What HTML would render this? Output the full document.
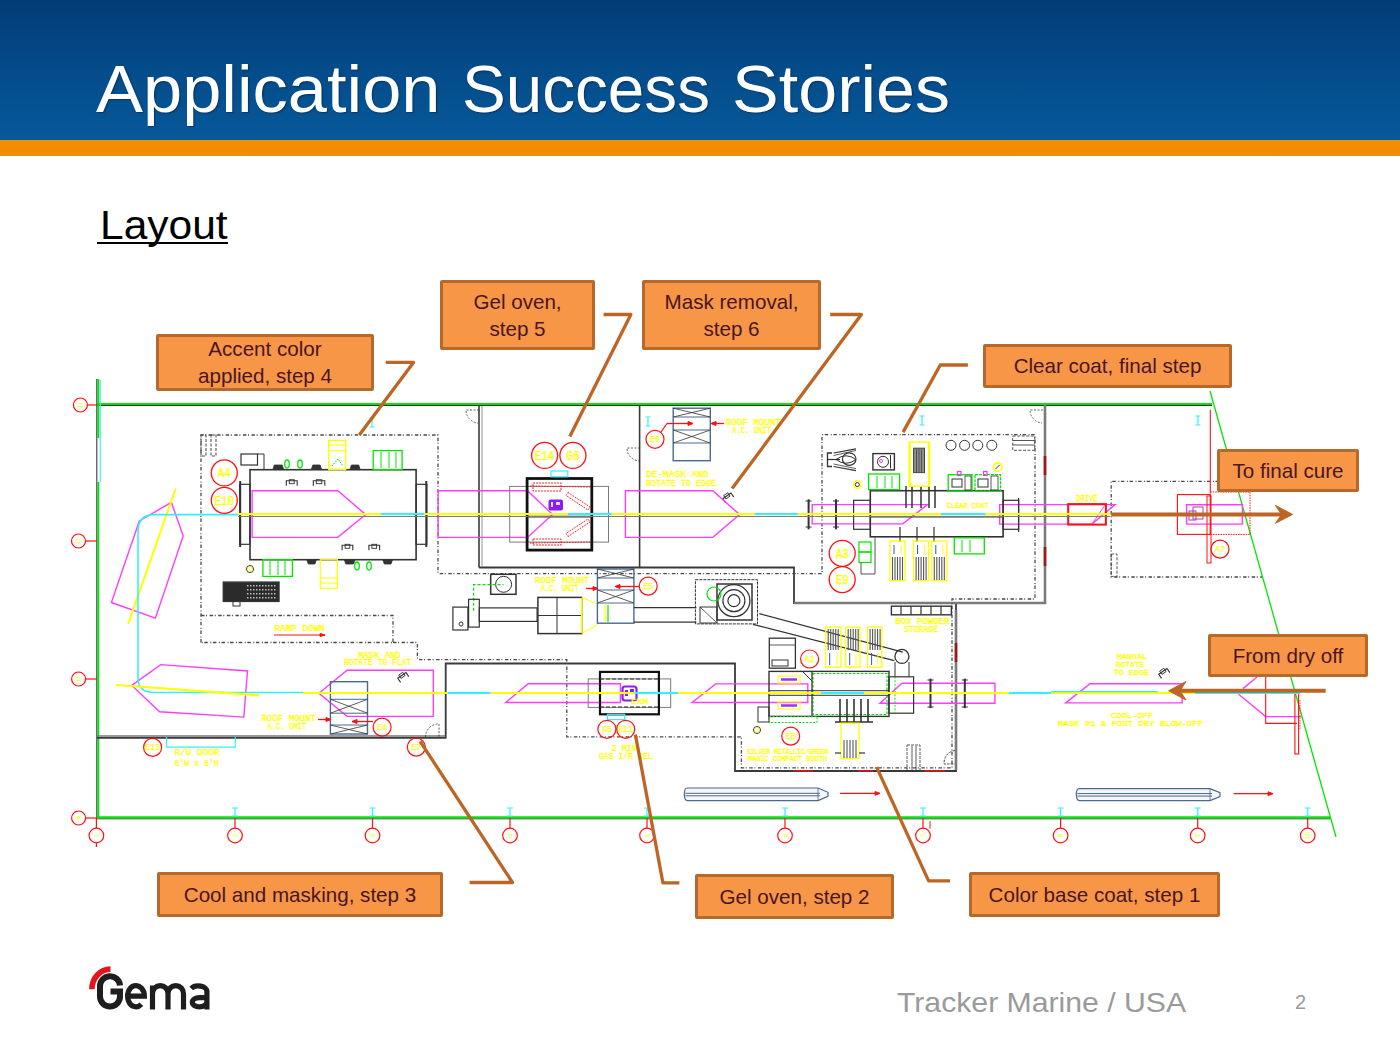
<!DOCTYPE html>
<html><head><meta charset="utf-8">
<style>
html,body{margin:0;padding:0;background:#fff;}
body{width:1400px;height:1050px;position:relative;overflow:hidden;font-family:"Liberation Sans",sans-serif;}
#hdr{position:absolute;left:0;top:0;width:1400px;height:140px;background:linear-gradient(#033b77 0%,#044a88 45%,#06599a 100%);}
#bar{position:absolute;left:0;top:139.5px;width:1400px;height:16px;background:linear-gradient(#e8900c 0%,#f68c00 40%,#f58a00 70%,#e9930f 100%);}
.tw{position:absolute;top:50.5px;font-size:66px;line-height:76px;color:#fff;white-space:nowrap;transform-origin:0 0;text-shadow:1px 1px 1.5px rgba(0,15,50,0.45);}
#layout{position:absolute;left:100px;top:201.5px;font-size:40px;line-height:46px;color:#000;white-space:nowrap;transform-origin:0 0;transform:scaleX(1.063);}
#ul{position:absolute;left:96.6px;top:242px;width:131.3px;height:2px;background:#000;}
.s1{padding-top:2.5px;}
.s2{padding-top:2px;}
.cb{position:absolute;box-sizing:border-box;background:#f79646;border:3px solid #b5692b;color:#4a1524;font-size:20.6px;line-height:26.8px;border-radius:2px;text-align:center;white-space:nowrap;display:flex;align-items:center;justify-content:center;}
#foot{position:absolute;left:897px;top:986px;font-size:28px;line-height:34px;color:#9a9a9a;white-space:nowrap;transform-origin:0 0;transform:scaleX(1.078);}
#pg{position:absolute;left:1295px;top:990px;font-size:20px;line-height:24px;color:#9a9a9a;}
svg{position:absolute;left:0;top:0;}
</style></head><body>
<div id="hdr"></div>
<div id="bar"></div>
<div class="tw" style="left:95.9px;transform:scaleX(1.067)">Application</div><div class="tw" style="left:461.8px;transform:scaleX(0.994)">Success</div><div class="tw" style="left:732.4px;transform:scaleX(1.062)">Stories</div>
<div id="layout">Layout</div><div id="ul"></div>

<svg id="dg" width="1400" height="1050" viewBox="0 0 1400 1050" font-family="Liberation Sans, sans-serif">
<line x1="97" y1="405.5" x2="1212" y2="405.5" stroke="#333" stroke-width="1" />
<line x1="97" y1="404" x2="1212" y2="404" stroke="#00e600" stroke-width="2.2" />
<line x1="96.8" y1="379" x2="96.8" y2="818" stroke="#2a2a40" stroke-width="1" />
<line x1="98.3" y1="379" x2="98.3" y2="438" stroke="#00e600" stroke-width="2" />
<line x1="98.3" y1="482" x2="98.3" y2="818" stroke="#00e600" stroke-width="2" />
<line x1="100.3" y1="380" x2="100.3" y2="482" stroke="#33f0ff" stroke-width="1.1" />
<line x1="96" y1="818.8" x2="1330" y2="818.8" stroke="#333" stroke-width="1" />
<line x1="97" y1="817.3" x2="1330" y2="817.3" stroke="#00e600" stroke-width="2.2" />
<line x1="1210" y1="391" x2="1336" y2="837" stroke="#00e600" stroke-width="1.3" />
<line x1="87.4" y1="405" x2="97" y2="405" stroke="#ff1010" stroke-width="1.2" />
<circle cx="80.4" cy="405" r="7" fill="none" stroke="#ff1010" stroke-width="1.2" />
<text x="80.4" y="407.5" fill="#ffff00" font-size="7" text-anchor="middle" transform="rotate(-90 80.4 405)">D</text>
<line x1="85.5" y1="541" x2="97" y2="541" stroke="#ff1010" stroke-width="1.2" />
<circle cx="78.5" cy="541" r="7" fill="none" stroke="#ff1010" stroke-width="1.2" />
<text x="78.5" y="543.5" fill="#ffff00" font-size="7" text-anchor="middle" transform="rotate(-90 78.5 541)">C</text>
<line x1="85.6" y1="679" x2="97" y2="679" stroke="#ff1010" stroke-width="1.2" />
<circle cx="78.6" cy="679" r="7" fill="none" stroke="#ff1010" stroke-width="1.2" />
<text x="78.6" y="681.5" fill="#ffff00" font-size="7" text-anchor="middle" transform="rotate(-90 78.6 679)">B</text>
<line x1="85.6" y1="818" x2="97" y2="818" stroke="#ff1010" stroke-width="1.2" />
<circle cx="78.6" cy="818" r="7" fill="none" stroke="#ff1010" stroke-width="1.2" />
<text x="78.6" y="820.5" fill="#ffff00" font-size="7" text-anchor="middle" transform="rotate(-90 78.6 818)">A</text>
<line x1="96.4" y1="818" x2="96.4" y2="828" stroke="#ff1010" stroke-width="1.2" />
<circle cx="96.4" cy="835.5" r="7.3" fill="none" stroke="#ff1010" stroke-width="1.2" />
<line x1="96.4" y1="843" x2="96.4" y2="847" stroke="#ff1010" stroke-width="1.2" />
<text x="96.4" y="838" fill="#ffff00" font-size="7" text-anchor="middle" transform="rotate(-90 96.4 835.5)">1</text>
<line x1="235" y1="818" x2="235" y2="828" stroke="#ff1010" stroke-width="1.2" />
<circle cx="235" cy="835.5" r="7.3" fill="none" stroke="#ff1010" stroke-width="1.2" />
<text x="235" y="838" fill="#ffff00" font-size="7" text-anchor="middle" transform="rotate(-90 235 835.5)">2</text>
<line x1="232" y1="808" x2="238" y2="808" stroke="#33f0ff" stroke-width="1" />
<line x1="235" y1="808" x2="235" y2="816" stroke="#33f0ff" stroke-width="1.2" />
<line x1="232" y1="816" x2="238" y2="816" stroke="#33f0ff" stroke-width="1" />
<line x1="372.5" y1="818" x2="372.5" y2="828" stroke="#ff1010" stroke-width="1.2" />
<circle cx="372.5" cy="835.5" r="7.3" fill="none" stroke="#ff1010" stroke-width="1.2" />
<text x="372.5" y="838" fill="#ffff00" font-size="7" text-anchor="middle" transform="rotate(-90 372.5 835.5)">3</text>
<line x1="369.5" y1="808" x2="375.5" y2="808" stroke="#33f0ff" stroke-width="1" />
<line x1="372.5" y1="808" x2="372.5" y2="816" stroke="#33f0ff" stroke-width="1.2" />
<line x1="369.5" y1="816" x2="375.5" y2="816" stroke="#33f0ff" stroke-width="1" />
<line x1="510" y1="818" x2="510" y2="828" stroke="#ff1010" stroke-width="1.2" />
<circle cx="510" cy="835.5" r="7.3" fill="none" stroke="#ff1010" stroke-width="1.2" />
<text x="510" y="838" fill="#ffff00" font-size="7" text-anchor="middle" transform="rotate(-90 510 835.5)">4</text>
<line x1="507" y1="808" x2="513" y2="808" stroke="#33f0ff" stroke-width="1" />
<line x1="510" y1="808" x2="510" y2="816" stroke="#33f0ff" stroke-width="1.2" />
<line x1="507" y1="816" x2="513" y2="816" stroke="#33f0ff" stroke-width="1" />
<line x1="647" y1="818" x2="647" y2="828" stroke="#ff1010" stroke-width="1.2" />
<circle cx="647" cy="835.5" r="7.3" fill="none" stroke="#ff1010" stroke-width="1.2" />
<text x="647" y="838" fill="#ffff00" font-size="7" text-anchor="middle" transform="rotate(-90 647 835.5)">5</text>
<line x1="644" y1="808" x2="650" y2="808" stroke="#33f0ff" stroke-width="1" />
<line x1="647" y1="808" x2="647" y2="816" stroke="#33f0ff" stroke-width="1.2" />
<line x1="644" y1="816" x2="650" y2="816" stroke="#33f0ff" stroke-width="1" />
<line x1="785" y1="818" x2="785" y2="828" stroke="#ff1010" stroke-width="1.2" />
<circle cx="785" cy="835.5" r="7.3" fill="none" stroke="#ff1010" stroke-width="1.2" />
<text x="785" y="838" fill="#ffff00" font-size="7" text-anchor="middle" transform="rotate(-90 785 835.5)">6</text>
<line x1="782" y1="808" x2="788" y2="808" stroke="#33f0ff" stroke-width="1" />
<line x1="785" y1="808" x2="785" y2="816" stroke="#33f0ff" stroke-width="1.2" />
<line x1="782" y1="816" x2="788" y2="816" stroke="#33f0ff" stroke-width="1" />
<line x1="923" y1="818" x2="923" y2="828" stroke="#ff1010" stroke-width="1.2" />
<circle cx="923" cy="835.5" r="7.3" fill="none" stroke="#ff1010" stroke-width="1.2" />
<text x="923" y="838" fill="#ffff00" font-size="7" text-anchor="middle" transform="rotate(-90 923 835.5)">7</text>
<line x1="920" y1="808" x2="926" y2="808" stroke="#33f0ff" stroke-width="1" />
<line x1="923" y1="808" x2="923" y2="816" stroke="#33f0ff" stroke-width="1.2" />
<line x1="920" y1="816" x2="926" y2="816" stroke="#33f0ff" stroke-width="1" />
<line x1="1060.6" y1="818" x2="1060.6" y2="828" stroke="#ff1010" stroke-width="1.2" />
<circle cx="1060.6" cy="835.5" r="7.3" fill="none" stroke="#ff1010" stroke-width="1.2" />
<text x="1060.6" y="838" fill="#ffff00" font-size="7" text-anchor="middle" transform="rotate(-90 1060.6 835.5)">8</text>
<line x1="1057.6" y1="808" x2="1063.6" y2="808" stroke="#33f0ff" stroke-width="1" />
<line x1="1060.6" y1="808" x2="1060.6" y2="816" stroke="#33f0ff" stroke-width="1.2" />
<line x1="1057.6" y1="816" x2="1063.6" y2="816" stroke="#33f0ff" stroke-width="1" />
<line x1="1197.7" y1="818" x2="1197.7" y2="828" stroke="#ff1010" stroke-width="1.2" />
<circle cx="1197.7" cy="835.5" r="7.3" fill="none" stroke="#ff1010" stroke-width="1.2" />
<text x="1197.7" y="838" fill="#ffff00" font-size="7" text-anchor="middle" transform="rotate(-90 1197.7 835.5)">9</text>
<line x1="1194.7" y1="808" x2="1200.7" y2="808" stroke="#33f0ff" stroke-width="1" />
<line x1="1197.7" y1="808" x2="1197.7" y2="816" stroke="#33f0ff" stroke-width="1.2" />
<line x1="1194.7" y1="816" x2="1200.7" y2="816" stroke="#33f0ff" stroke-width="1" />
<line x1="1307.7" y1="818" x2="1307.7" y2="828" stroke="#ff1010" stroke-width="1.2" />
<circle cx="1307.7" cy="835.5" r="7.3" fill="none" stroke="#ff1010" stroke-width="1.2" />
<text x="1307.7" y="838" fill="#ffff00" font-size="7" text-anchor="middle" transform="rotate(-90 1307.7 835.5)">10</text>
<line x1="1304.7" y1="808" x2="1310.7" y2="808" stroke="#33f0ff" stroke-width="1" />
<line x1="1307.7" y1="808" x2="1307.7" y2="816" stroke="#33f0ff" stroke-width="1.2" />
<line x1="1304.7" y1="816" x2="1310.7" y2="816" stroke="#33f0ff" stroke-width="1" />
<line x1="479" y1="405" x2="479" y2="567.5" stroke="#3a3a3a" stroke-width="1.6" />
<line x1="482" y1="406" x2="482" y2="566" stroke="#7a7a7a" stroke-width="0.8" />
<line x1="639.6" y1="405" x2="639.6" y2="567.5" stroke="#3a3a3a" stroke-width="1.6" />
<polyline points="479,567.5 794,567.5 794,603 956,603 956,771 735,771 735,663.5 445.7,663.5 445.7,737.8 97,737.8" fill="none" stroke="#3a3a3a" stroke-width="1.8" />
<line x1="97" y1="736" x2="445" y2="736" stroke="#7a7a7a" stroke-width="1.5" />
<polyline points="794,603 1045,603 1045,405" fill="none" stroke="#7a7a7a" stroke-width="2.6" />
<line x1="1045" y1="456" x2="1045" y2="475" stroke="#a01818" stroke-width="2.6" />
<line x1="1045" y1="547" x2="1045" y2="566" stroke="#a01818" stroke-width="2.6" />
<line x1="956" y1="610" x2="956" y2="770" stroke="#7a7a7a" stroke-width="2.6" />
<line x1="956" y1="643" x2="956" y2="662" stroke="#a01818" stroke-width="2.6" />
<line x1="793.6" y1="771" x2="812.8" y2="771" stroke="#d01818" stroke-width="1.8" />
<line x1="857.8" y1="771" x2="872.8" y2="771" stroke="#d01818" stroke-width="1.8" />
<line x1="924.3" y1="771" x2="945.7" y2="771" stroke="#d01818" stroke-width="1.8" />
<path d="M479 410 L466 410 A13 13 0 0 0 478 423" fill="none" stroke="#3a3a3a" stroke-width="0.8" stroke-dasharray="2 1.5"/>
<path d="M640 448 L627 448 A13 13 0 0 0 639 461" fill="none" stroke="#3a3a3a" stroke-width="0.8" stroke-dasharray="2 1.5"/>
<path d="M1043 410 L1030 410 A13 13 0 0 0 1042 423" fill="none" stroke="#3a3a3a" stroke-width="0.8" stroke-dasharray="2 1.5"/>
<polyline points="201,642.5 201,435 438,435 438,573.6 822,573.6" fill="none" stroke="#4a4a4a" stroke-width="1.3" stroke-dasharray="3.5 1.6 1 2.5"/>
<polyline points="201,615.5 393,615.5 393,642.5 201,642.5" fill="none" stroke="#4a4a4a" stroke-width="1.3" stroke-dasharray="3.5 1.6 1 2.5"/>
<polyline points="393,642.5 417.4,642.5 417.4,659.6 566.8,659.6 566.8,736.8 741.4,736.8 741.4,767.8 952,767.8 952,599 1035,599 1035,434.6 822,434.6 822,573.6" fill="none" stroke="#4a4a4a" stroke-width="1.3" stroke-dasharray="3.5 1.6 1 2.5"/>
<polyline points="1262,481.3 1111.2,481.3 1111.2,577 1262,577" fill="none" stroke="#4a4a4a" stroke-width="1.3" stroke-dasharray="3.5 1.6 1 2.5"/>
<g transform="rotate(-35 1164 673)"><path d="M1159 676 L1159 671 L1169 671 L1169 676" fill="none" stroke="#333" stroke-width="1.1"/><rect x="1161.5" y="669" width="5" height="4" fill="none" stroke="#333" stroke-width="0.9"/></g>
<g transform="rotate(-35 403 677)"><path d="M398 680 L398 675 L408 675 L408 680" fill="none" stroke="#333" stroke-width="1.1"/><rect x="400.5" y="673" width="5" height="4" fill="none" stroke="#333" stroke-width="0.9"/></g>
<g transform="rotate(-35 728 497.5)"><path d="M723 500.5 L723 495.5 L733 495.5 L733 500.5" fill="none" stroke="#333" stroke-width="1.1"/><rect x="725.5" y="493.5" width="5" height="4" fill="none" stroke="#333" stroke-width="0.9"/></g>
<polygon points="252.1,490.7 337.8,490.7 365.7,514.6 337.8,537.4 252.1,537.4" fill="none" stroke="#ff3cff" stroke-width="1.4" />
<polygon points="438.1,490.7 527.5,490.7 552.6,514.6 527.5,537.4 438.1,537.4" fill="none" stroke="#ff3cff" stroke-width="1.4" />
<polygon points="625.4,490.7 712.8,490.7 739.6,514.6 712.8,537.4 625.4,537.4" fill="none" stroke="#ff3cff" stroke-width="1.4" />
<polygon points="812.2,504.6 927.5,504.6 902.8,523.9 812.2,523.9" fill="none" stroke="#ff3cff" stroke-width="1.4" />
<polygon points="999.7,504.6 1115,504.6 1092,524.1 999.7,524.1" fill="none" stroke="#ff3cff" stroke-width="1.4" />
<polygon points="1186.6,504.8 1242.4,504.8 1242.4,524.1 1186.6,524.1" fill="none" stroke="#ff3cff" stroke-width="1.4" />
<polygon points="139.3,521 171.4,502.4 183.2,536 155.4,618.1 111.4,602.5" fill="none" stroke="#ff3cff" stroke-width="1.4" />
<polygon points="131.8,685.4 160.7,664.6 247.5,671 243.8,717.1 159.6,711.8" fill="none" stroke="#ff3cff" stroke-width="1.4" />
<polygon points="318.9,693.3 347.1,670.3 433.3,670.3 433.3,716.4 347.1,716.4" fill="none" stroke="#ff3cff" stroke-width="1.4" />
<polygon points="505.7,702.5 528.2,683.8 620.4,683.8 620.4,702.5" fill="none" stroke="#ff3cff" stroke-width="1.4" />
<polygon points="692.1,702.5 715.7,683.9 807.8,683.9 807.8,702.5" fill="none" stroke="#ff3cff" stroke-width="1.4" />
<polygon points="880,703.3 902,683.3 994.9,683.3 994.9,703.3" fill="none" stroke="#ff3cff" stroke-width="1.4" />
<polygon points="1065.7,702.9 1090,683.7 1181.4,683.7 1182.3,702.9" fill="none" stroke="#ff3cff" stroke-width="1.4" />
<polyline points="1257,677 1243,688.6" fill="none" stroke="#ff3cff" stroke-width="1.4" />
<polyline points="1238.6,694.3 1265.7,716.6 1301,716.6" fill="none" stroke="#ff3cff" stroke-width="1.4" />
<polyline points="1265.7,677 1265.7,723.4 1297,723.4" fill="none" stroke="#ff1010" stroke-width="1.1" />
<rect x="1294.9" y="691" width="3.699999999999818" height="63" fill="none" stroke="#ff1010" stroke-width="1.1" />
<line x1="1300" y1="700" x2="1300" y2="730" stroke="#ff1010" stroke-width="0.8" stroke-dasharray="1.5 1"/>
<line x1="175.7" y1="488.5" x2="128.1" y2="623.9" stroke="#ffff00" stroke-width="2" />
<rect x="250" y="469.7" width="166.10000000000002" height="90.00000000000006" fill="none" stroke="#333" stroke-width="1.6" />
<rect x="239.7" y="484.3" width="10.300000000000011" height="59.99999999999994" fill="none" stroke="#333" stroke-width="1.2" />
<rect x="416.1" y="484.3" width="10.699999999999989" height="59.99999999999994" fill="none" stroke="#333" stroke-width="1.2" />
<line x1="240.2" y1="481" x2="240.2" y2="547" stroke="#333" stroke-width="2" />
<line x1="426.3" y1="481" x2="426.3" y2="547" stroke="#333" stroke-width="2" />
<rect x="241" y="454" width="16.5" height="11" fill="none" stroke="#333" stroke-width="1.2" />
<line x1="257.5" y1="454" x2="264" y2="454" stroke="#333" stroke-width="1" />
<line x1="264" y1="454" x2="264" y2="469" stroke="#333" stroke-width="1" />
<rect x="328.7" y="440.5" width="17.0" height="29.100000000000023" fill="none" stroke="#ffff00" stroke-width="1.4" />
<line x1="328.7" y1="445" x2="345.7" y2="445" stroke="#ffff00" stroke-width="1.1" />
<line x1="328.7" y1="450.8" x2="345.7" y2="450.8" stroke="#ffff00" stroke-width="1.1" />
<polyline points="332,466 338,459 343,466" fill="none" stroke="#00e600" stroke-width="1" stroke-dasharray="1.5 1"/>
<rect x="373.2" y="450.6" width="28.900000000000034" height="19.099999999999966" fill="none" stroke="#00e600" stroke-width="1.3" />
<line x1="381" y1="452" x2="381" y2="468" stroke="#00e600" stroke-width="1" />
<line x1="389" y1="452" x2="389" y2="468" stroke="#00e600" stroke-width="1" />
<line x1="396" y1="452" x2="396" y2="468" stroke="#00e600" stroke-width="1" />
<rect x="262.9" y="559.7" width="29.5" height="16.699999999999932" fill="none" stroke="#00e600" stroke-width="1.3" />
<line x1="270" y1="561" x2="270" y2="575" stroke="#00e600" stroke-width="1" />
<line x1="278" y1="561" x2="278" y2="575" stroke="#00e600" stroke-width="1" />
<line x1="285" y1="561" x2="285" y2="575" stroke="#00e600" stroke-width="1" />
<rect x="320.3" y="559.7" width="17.099999999999966" height="28.5" fill="none" stroke="#ffff00" stroke-width="1.2" />
<line x1="320.3" y1="578" x2="337.4" y2="578" stroke="#ffff00" stroke-width="1" />
<line x1="320.3" y1="583" x2="337.4" y2="583" stroke="#ffff00" stroke-width="1" />
<path d="M272.8 469.6 L274.3 465 L282.2 465 L283.7 469.6 Z" fill="#333" stroke="#333" stroke-width="0.8"/>
<path d="M311.3 469.6 L312.8 465 L320.1 465 L321.6 469.6 Z" fill="#333" stroke="#333" stroke-width="0.8"/>
<path d="M349.9 469.6 L351.4 465 L358.7 465 L360.2 469.6 Z" fill="#333" stroke="#333" stroke-width="0.8"/>
<path d="M306.8 559.7 L308.3 564 L314.9 564 L316.4 559.7 Z" fill="#333" stroke="#333" stroke-width="0.8"/>
<path d="M344.3 559.7 L345.8 564 L353.5 564 L355 559.7 Z" fill="#333" stroke="#333" stroke-width="0.8"/>
<path d="M382.8 559.7 L384.3 564 L391.0 564 L392.5 559.7 Z" fill="#333" stroke="#333" stroke-width="0.8"/>
<ellipse cx="287" cy="464" rx="2.3" ry="4" fill="none" stroke="#00e600" stroke-width="1.3"/>
<ellipse cx="300" cy="464" rx="2.3" ry="4" fill="none" stroke="#00e600" stroke-width="1.3"/>
<ellipse cx="357" cy="566" rx="2.3" ry="4" fill="none" stroke="#00e600" stroke-width="1.3"/>
<ellipse cx="369" cy="566" rx="2.3" ry="4" fill="none" stroke="#00e600" stroke-width="1.3"/>
<polyline points="286.3,485.7 286.3,480.7 297.2,480.7 297.2,485.7" fill="none" stroke="#333" stroke-width="1.1" />
<rect x="289.3" y="479.7" width="4.899999999999977" height="4.0" fill="none" stroke="#333" stroke-width="0.9" />
<polyline points="313.3,485.7 313.3,480.7 324.8,480.7 324.8,485.7" fill="none" stroke="#333" stroke-width="1.1" />
<rect x="316.3" y="479.7" width="5.5" height="4.0" fill="none" stroke="#333" stroke-width="0.9" />
<polyline points="342.1,550.3 342.1,545.3 352.8,545.3 352.8,550.3" fill="none" stroke="#333" stroke-width="1.1" />
<rect x="345.1" y="544.3" width="4.699999999999989" height="4.0" fill="none" stroke="#333" stroke-width="0.9" />
<polyline points="368.9,550.3 368.9,545.3 379.6,545.3 379.6,550.3" fill="none" stroke="#333" stroke-width="1.1" />
<rect x="371.9" y="544.3" width="4.7000000000000455" height="4.0" fill="none" stroke="#333" stroke-width="0.9" />
<circle cx="250" cy="569" r="3.5" fill="none" stroke="#333" stroke-width="1" />
<circle cx="250" cy="569" r="2.5" fill="none" stroke="#ffff00" stroke-width="0.8" />
<rect x="223.3" y="582.1" width="55.69999999999999" height="19.299999999999955" fill="#2b2b2b" stroke="#333" stroke-width="1.4" />
<rect x="247" y="585" width="1.5" height="1.5" fill="#bbb" stroke="none" stroke-width="0" />
<rect x="250" y="585" width="1.5" height="1.5" fill="#bbb" stroke="none" stroke-width="0" />
<rect x="253" y="585" width="1.5" height="1.5" fill="#bbb" stroke="none" stroke-width="0" />
<rect x="256" y="585" width="1.5" height="1.5" fill="#bbb" stroke="none" stroke-width="0" />
<rect x="259" y="585" width="1.5" height="1.5" fill="#bbb" stroke="none" stroke-width="0" />
<rect x="262" y="585" width="1.5" height="1.5" fill="#bbb" stroke="none" stroke-width="0" />
<rect x="265" y="585" width="1.5" height="1.5" fill="#bbb" stroke="none" stroke-width="0" />
<rect x="268" y="585" width="1.5" height="1.5" fill="#bbb" stroke="none" stroke-width="0" />
<rect x="271" y="585" width="1.5" height="1.5" fill="#bbb" stroke="none" stroke-width="0" />
<rect x="274" y="585" width="1.5" height="1.5" fill="#bbb" stroke="none" stroke-width="0" />
<rect x="247" y="589" width="1.5" height="1.5" fill="#bbb" stroke="none" stroke-width="0" />
<rect x="250" y="589" width="1.5" height="1.5" fill="#bbb" stroke="none" stroke-width="0" />
<rect x="253" y="589" width="1.5" height="1.5" fill="#bbb" stroke="none" stroke-width="0" />
<rect x="256" y="589" width="1.5" height="1.5" fill="#bbb" stroke="none" stroke-width="0" />
<rect x="259" y="589" width="1.5" height="1.5" fill="#bbb" stroke="none" stroke-width="0" />
<rect x="262" y="589" width="1.5" height="1.5" fill="#bbb" stroke="none" stroke-width="0" />
<rect x="265" y="589" width="1.5" height="1.5" fill="#bbb" stroke="none" stroke-width="0" />
<rect x="268" y="589" width="1.5" height="1.5" fill="#bbb" stroke="none" stroke-width="0" />
<rect x="271" y="589" width="1.5" height="1.5" fill="#bbb" stroke="none" stroke-width="0" />
<rect x="274" y="589" width="1.5" height="1.5" fill="#bbb" stroke="none" stroke-width="0" />
<rect x="247" y="593" width="1.5" height="1.5" fill="#bbb" stroke="none" stroke-width="0" />
<rect x="250" y="593" width="1.5" height="1.5" fill="#bbb" stroke="none" stroke-width="0" />
<rect x="253" y="593" width="1.5" height="1.5" fill="#bbb" stroke="none" stroke-width="0" />
<rect x="256" y="593" width="1.5" height="1.5" fill="#bbb" stroke="none" stroke-width="0" />
<rect x="259" y="593" width="1.5" height="1.5" fill="#bbb" stroke="none" stroke-width="0" />
<rect x="262" y="593" width="1.5" height="1.5" fill="#bbb" stroke="none" stroke-width="0" />
<rect x="265" y="593" width="1.5" height="1.5" fill="#bbb" stroke="none" stroke-width="0" />
<rect x="268" y="593" width="1.5" height="1.5" fill="#bbb" stroke="none" stroke-width="0" />
<rect x="271" y="593" width="1.5" height="1.5" fill="#bbb" stroke="none" stroke-width="0" />
<rect x="274" y="593" width="1.5" height="1.5" fill="#bbb" stroke="none" stroke-width="0" />
<rect x="247" y="597" width="1.5" height="1.5" fill="#bbb" stroke="none" stroke-width="0" />
<rect x="250" y="597" width="1.5" height="1.5" fill="#bbb" stroke="none" stroke-width="0" />
<rect x="253" y="597" width="1.5" height="1.5" fill="#bbb" stroke="none" stroke-width="0" />
<rect x="256" y="597" width="1.5" height="1.5" fill="#bbb" stroke="none" stroke-width="0" />
<rect x="259" y="597" width="1.5" height="1.5" fill="#bbb" stroke="none" stroke-width="0" />
<rect x="262" y="597" width="1.5" height="1.5" fill="#bbb" stroke="none" stroke-width="0" />
<rect x="265" y="597" width="1.5" height="1.5" fill="#bbb" stroke="none" stroke-width="0" />
<rect x="268" y="597" width="1.5" height="1.5" fill="#bbb" stroke="none" stroke-width="0" />
<rect x="271" y="597" width="1.5" height="1.5" fill="#bbb" stroke="none" stroke-width="0" />
<rect x="274" y="597" width="1.5" height="1.5" fill="#bbb" stroke="none" stroke-width="0" />
<rect x="233" y="601.4" width="7" height="4.600000000000023" fill="none" stroke="#333" stroke-width="1" />
<rect x="201" y="435" width="5" height="21" fill="none" stroke="#555" stroke-width="1.1" stroke-dasharray="3 1.5"/>
<rect x="211" y="435" width="5" height="21" fill="none" stroke="#555" stroke-width="1.1" stroke-dasharray="3 1.5"/>
<rect x="509.7" y="486.4" width="98.80000000000001" height="55.700000000000045" fill="none" stroke="#7a7a7a" stroke-width="1" />
<rect x="527.1" y="478.5" width="64.69999999999993" height="71.60000000000002" fill="none" stroke="#111" stroke-width="2.8" />
<line x1="527.1" y1="514.6" x2="591.8" y2="514.6" stroke="#333" stroke-width="1.2" />
<line x1="527.1" y1="517" x2="591.8" y2="517" stroke="#333" stroke-width="1" />
<rect x="551" y="471" width="16.799999999999955" height="5.800000000000011" fill="none" stroke="#33f0ff" stroke-width="1.2" />
<rect x="533" y="483" width="28" height="8" fill="none" stroke="#ff1010" stroke-width="0.9" stroke-dasharray="2 1"/>
<rect x="533" y="539" width="28" height="6" fill="none" stroke="#ff1010" stroke-width="0.9" stroke-dasharray="2 1"/>
<polygon points="568,492.5 590,507 588,510 566,495.5" fill="none" stroke="#ff1010" stroke-width="1" stroke-dasharray="1.6 1.2"/>
<polygon points="568,536.5 590,522 588,519 566,533.5" fill="none" stroke="#ff1010" stroke-width="1" stroke-dasharray="1.6 1.2"/>
<line x1="530" y1="486" x2="590" y2="487" stroke="#ff1010" stroke-width="1" stroke-dasharray="1.6 1.2"/>
<line x1="530" y1="543" x2="590" y2="542" stroke="#ff1010" stroke-width="1" stroke-dasharray="1.6 1.2"/>
<rect x="548.5" y="499.5" width="14.5" height="11" rx="2" fill="#8a1ef0"/>
<rect x="551" y="502" width="2" height="5" fill="#e8d8ff" stroke="none" stroke-width="0" />
<rect x="556" y="502" width="4" height="3" fill="#e8d8ff" stroke="none" stroke-width="0" />
<rect x="673.2" y="408.2" width="37.09999999999991" height="52.5" fill="none" stroke="#4a6a90" stroke-width="1.4" />
<line x1="673.2" y1="417" x2="710.3" y2="417" stroke="#4a6a90" stroke-width="1" />
<line x1="673.2" y1="430" x2="710.3" y2="430" stroke="#4a6a90" stroke-width="1" />
<line x1="673.2" y1="443" x2="710.3" y2="443" stroke="#4a6a90" stroke-width="1" />
<polyline points="673.2,408.2 710.3,417" fill="none" stroke="#333" stroke-width="0.8" />
<polyline points="673.2,417 710.3,408.2" fill="none" stroke="#333" stroke-width="0.8" />
<polyline points="673.2,430 710.3,443" fill="none" stroke="#333" stroke-width="0.8" />
<polyline points="673.2,443 710.3,430" fill="none" stroke="#333" stroke-width="0.8" />
<line x1="667" y1="423.5" x2="692" y2="423.5" stroke="#ff1010" stroke-width="1.3" />
<polyline points="661,432 667,423.5" fill="none" stroke="#ff1010" stroke-width="1.3" />
<line x1="712" y1="423.5" x2="724" y2="423.5" stroke="#ff1010" stroke-width="1.3" />
<polygon points="688,421.5 693,423.5 688,425.5" fill="#ff1010" stroke="#ff1010" stroke-width="1" />
<polygon points="716,421.5 711,423.5 716,425.5" fill="#ff1010" stroke="#ff1010" stroke-width="1" />
<line x1="648" y1="417" x2="648" y2="426" stroke="#33f0ff" stroke-width="1.2" />
<line x1="645.5" y1="417" x2="650.5" y2="417" stroke="#33f0ff" stroke-width="1" />
<line x1="645.5" y1="426" x2="650.5" y2="426" stroke="#33f0ff" stroke-width="1" />
<line x1="372" y1="418" x2="372" y2="427" stroke="#33f0ff" stroke-width="1.2" />
<line x1="369.5" y1="418" x2="374.5" y2="418" stroke="#33f0ff" stroke-width="1" />
<line x1="369.5" y1="427" x2="374.5" y2="427" stroke="#33f0ff" stroke-width="1" />
<line x1="922" y1="416" x2="922" y2="425" stroke="#33f0ff" stroke-width="1.2" />
<line x1="919.5" y1="416" x2="924.5" y2="416" stroke="#33f0ff" stroke-width="1" />
<line x1="919.5" y1="425" x2="924.5" y2="425" stroke="#33f0ff" stroke-width="1" />
<line x1="1198" y1="416" x2="1198" y2="425" stroke="#33f0ff" stroke-width="1.2" />
<line x1="1195.5" y1="416" x2="1200.5" y2="416" stroke="#33f0ff" stroke-width="1" />
<line x1="1195.5" y1="425" x2="1200.5" y2="425" stroke="#33f0ff" stroke-width="1" />
<rect x="870.3" y="490.7" width="132.80000000000007" height="46.099999999999966" fill="none" stroke="#333" stroke-width="1.6" />
<line x1="870.3" y1="514.6" x2="1003.1" y2="514.6" stroke="#333" stroke-width="1" />
<line x1="870.3" y1="517" x2="1003.1" y2="517" stroke="#333" stroke-width="1" />
<rect x="853.6" y="500.3" width="16.699999999999932" height="28.999999999999943" fill="none" stroke="#333" stroke-width="1.2" />
<rect x="1003.1" y="500.3" width="15.5" height="28.999999999999943" fill="none" stroke="#333" stroke-width="1.2" />
<line x1="1018.6" y1="498" x2="1018.6" y2="532" stroke="#333" stroke-width="1.3" />
<line x1="808.6" y1="499.3" x2="808.6" y2="529.3" stroke="#333" stroke-width="2" />
<line x1="805.6" y1="501" x2="811.6" y2="501" stroke="#333" stroke-width="1" />
<line x1="805.6" y1="527" x2="811.6" y2="527" stroke="#333" stroke-width="1" />
<line x1="836" y1="499.3" x2="836" y2="529.3" stroke="#333" stroke-width="2" />
<line x1="833" y1="501" x2="839" y2="501" stroke="#333" stroke-width="1" />
<line x1="833" y1="527" x2="839" y2="527" stroke="#333" stroke-width="1" />
<line x1="906" y1="486" x2="906" y2="508" stroke="#333" stroke-width="1.5" />
<line x1="912" y1="486" x2="912" y2="508" stroke="#333" stroke-width="1.5" />
<line x1="921" y1="486" x2="921" y2="508" stroke="#333" stroke-width="1.5" />
<line x1="929" y1="486" x2="929" y2="508" stroke="#333" stroke-width="1.5" />
<line x1="935" y1="486" x2="935" y2="508" stroke="#333" stroke-width="1.5" />
<line x1="900" y1="527" x2="900" y2="542" stroke="#333" stroke-width="1.2" />
<line x1="917" y1="527" x2="917" y2="542" stroke="#333" stroke-width="1.2" />
<line x1="934" y1="527" x2="934" y2="542" stroke="#333" stroke-width="1.2" />
<rect x="868.6" y="474" width="31.0" height="15.600000000000023" fill="none" stroke="#00e600" stroke-width="1.3" />
<line x1="877" y1="476" x2="877" y2="488" stroke="#00e600" stroke-width="1" />
<line x1="885" y1="476" x2="885" y2="488" stroke="#00e600" stroke-width="1" />
<line x1="892" y1="476" x2="892" y2="488" stroke="#00e600" stroke-width="1" />
<rect x="948.2" y="474.7" width="23.799999999999955" height="16.30000000000001" fill="none" stroke="#00e600" stroke-width="1.3" />
<rect x="975" y="474.7" width="25.5" height="16.30000000000001" fill="none" stroke="#00e600" stroke-width="1.3" stroke-dasharray="3 1"/>
<rect x="965" y="476" width="6" height="14" fill="none" stroke="#333" stroke-width="0.8" />
<rect x="991" y="476" width="7" height="14" fill="none" stroke="#333" stroke-width="0.8" />
<rect x="952" y="479" width="10" height="8" fill="none" stroke="#333" stroke-width="1" />
<rect x="978" y="479" width="10" height="8" fill="none" stroke="#333" stroke-width="1" />
<rect x="957.5" y="471.5" width="3.5" height="4.0" fill="none" stroke="#e040e0" stroke-width="1.2" />
<rect x="983.5" y="471.5" width="3.5" height="4.0" fill="none" stroke="#e040e0" stroke-width="1.2" />
<rect x="954.3" y="537.8" width="30.0" height="16.100000000000023" fill="none" stroke="#00e600" stroke-width="1.3" />
<line x1="962" y1="540" x2="962" y2="552" stroke="#00e600" stroke-width="1" />
<line x1="970" y1="540" x2="970" y2="552" stroke="#00e600" stroke-width="1" />
<circle cx="951" cy="445.3" r="5" fill="none" stroke="#333" stroke-width="1" />
<circle cx="964.6" cy="445.3" r="5" fill="none" stroke="#333" stroke-width="1" />
<circle cx="977.8" cy="445.3" r="5" fill="none" stroke="#333" stroke-width="1" />
<circle cx="991.8" cy="445.3" r="5" fill="none" stroke="#333" stroke-width="1" />
<rect x="909.6" y="442.1" width="19.600000000000023" height="44.099999999999966" fill="none" stroke="#ffff00" stroke-width="1.4" />
<rect x="913.6" y="448.2" width="10.899999999999977" height="24.400000000000034" fill="#8c8c8c" stroke="#444" stroke-width="1" />
<line x1="916.5" y1="449" x2="916.5" y2="472" stroke="#555" stroke-width="1" />
<line x1="919" y1="449" x2="919" y2="472" stroke="#555" stroke-width="1" />
<line x1="921.5" y1="449" x2="921.5" y2="472" stroke="#555" stroke-width="1" />
<line x1="909.6" y1="442.1" x2="909.6" y2="486.2" stroke="#ffff00" stroke-width="2.2" />
<line x1="929.2" y1="442.1" x2="929.2" y2="486.2" stroke="#ffff00" stroke-width="2.2" />
<rect x="890" y="541" width="15" height="39.700000000000045" fill="none" stroke="#ffff00" stroke-width="1.3" />
<line x1="892.5" y1="557" x2="892.5" y2="580" stroke="#555" stroke-width="1.1" />
<line x1="895" y1="557" x2="895" y2="580" stroke="#555" stroke-width="1.1" />
<line x1="897.5" y1="557" x2="897.5" y2="580" stroke="#555" stroke-width="1.1" />
<line x1="900" y1="557" x2="900" y2="580" stroke="#555" stroke-width="1.1" />
<line x1="902.5" y1="557" x2="902.5" y2="580" stroke="#555" stroke-width="1.1" />
<line x1="894" y1="545" x2="894" y2="554" stroke="#3050d0" stroke-width="1" />
<line x1="901" y1="545" x2="901" y2="554" stroke="#ffff00" stroke-width="1" />
<rect x="913.6" y="541" width="15.0" height="39.700000000000045" fill="none" stroke="#ffff00" stroke-width="1.3" />
<line x1="916.1" y1="557" x2="916.1" y2="580" stroke="#555" stroke-width="1.1" />
<line x1="918.6" y1="557" x2="918.6" y2="580" stroke="#555" stroke-width="1.1" />
<line x1="921.1" y1="557" x2="921.1" y2="580" stroke="#555" stroke-width="1.1" />
<line x1="923.6" y1="557" x2="923.6" y2="580" stroke="#555" stroke-width="1.1" />
<line x1="926.1" y1="557" x2="926.1" y2="580" stroke="#555" stroke-width="1.1" />
<line x1="917.6" y1="545" x2="917.6" y2="554" stroke="#3050d0" stroke-width="1" />
<line x1="924.6" y1="545" x2="924.6" y2="554" stroke="#ffff00" stroke-width="1" />
<rect x="931.8" y="541" width="15.0" height="39.700000000000045" fill="none" stroke="#ffff00" stroke-width="1.3" />
<line x1="934.3" y1="557" x2="934.3" y2="580" stroke="#555" stroke-width="1.1" />
<line x1="936.8" y1="557" x2="936.8" y2="580" stroke="#555" stroke-width="1.1" />
<line x1="939.3" y1="557" x2="939.3" y2="580" stroke="#555" stroke-width="1.1" />
<line x1="941.8" y1="557" x2="941.8" y2="580" stroke="#555" stroke-width="1.1" />
<line x1="944.3" y1="557" x2="944.3" y2="580" stroke="#555" stroke-width="1.1" />
<line x1="935.8" y1="545" x2="935.8" y2="554" stroke="#3050d0" stroke-width="1" />
<line x1="942.8" y1="545" x2="942.8" y2="554" stroke="#ffff00" stroke-width="1" />
<polyline points="832,453 827.5,453 827.5,466.5 832,466.5" fill="none" stroke="#333" stroke-width="1.3" />
<line x1="827.5" y1="459.5" x2="840" y2="459.5" stroke="#333" stroke-width="1.2" />
<polyline points="833.6,453 856,448.9" fill="none" stroke="#333" stroke-width="1.1" />
<polyline points="833.6,455.5 856,450.5" fill="none" stroke="#333" stroke-width="0.8" />
<polyline points="833.6,466.5 856,470.6" fill="none" stroke="#333" stroke-width="1.1" />
<polyline points="833.6,464 856,468.6" fill="none" stroke="#333" stroke-width="0.8" />
<ellipse cx="849.2" cy="459.1" rx="6.8" ry="6.3" fill="none" stroke="#333" stroke-width="1.2"/>
<path d="M836 459.5 Q846 452 856 459.5 Q846 467 836 459.5 Z" fill="none" stroke="#333" stroke-width="1"/>
<rect x="872.9" y="453.6" width="21.5" height="16.299999999999955" fill="none" stroke="#333" stroke-width="1.4" />
<circle cx="883" cy="461.8" r="5.5" fill="none" stroke="#333" stroke-width="1" />
<line x1="890.5" y1="455" x2="890.5" y2="468.5" stroke="#333" stroke-width="1" />
<circle cx="881" cy="461" r="1.5" fill="none" stroke="#e040e0" stroke-width="1" />
<rect x="859" y="542" width="12" height="10" fill="none" stroke="#00e600" stroke-width="1.2" />
<rect x="859" y="552" width="12" height="10.5" fill="none" stroke="#00e600" stroke-width="1.2" />
<polyline points="861,562.5 861,574 875,574 875,537" fill="none" stroke="#555" stroke-width="1" />
<circle cx="857.3" cy="484.6" r="3.8" fill="none" stroke="#ffff00" stroke-width="1.4" />
<circle cx="857.3" cy="484.6" r="2" fill="none" stroke="#333" stroke-width="1" />
<circle cx="997.7" cy="467.2" r="4.3" fill="none" stroke="#ffff00" stroke-width="1.6" />
<line x1="995.5" y1="469" x2="999.5" y2="465" stroke="#333" stroke-width="1" />
<rect x="1068.2" y="504.1" width="37.700000000000045" height="20.5" fill="none" stroke="#ff1010" stroke-width="2" />
<line x1="1105" y1="505" x2="1092" y2="524" stroke="#ff3cff" stroke-width="1" />
<rect x="1177.4" y="494.6" width="32.899999999999864" height="39.799999999999955" fill="none" stroke="#ff1010" stroke-width="1.1" />
<rect x="1210.3" y="492" width="39.700000000000045" height="42.39999999999998" fill="none" stroke="#ff1010" stroke-width="1" stroke-dasharray="1.5 1"/>
<line x1="1210.3" y1="409.7" x2="1210.3" y2="492" stroke="#ff1010" stroke-width="1.1" />
<rect x="1207" y="496" width="4" height="67" fill="none" stroke="#ff1010" stroke-width="1" />
<rect x="1193" y="507" width="10" height="12" fill="none" stroke="#a040c0" stroke-width="1" />
<rect x="1189" y="511" width="7" height="9" fill="none" stroke="#a040c0" stroke-width="1" />
<rect x="1012.7" y="436" width="22.0" height="14.300000000000011" fill="none" stroke="#555" stroke-width="1" stroke-dasharray="3 1.5"/>
<line x1="1012.7" y1="440.5" x2="1034.7" y2="440.5" stroke="#555" stroke-width="1" />
<line x1="1012.7" y1="445" x2="1034.7" y2="445" stroke="#555" stroke-width="1" />
<rect x="1111.2" y="554" width="5.7999999999999545" height="22.399999999999977" fill="none" stroke="#555" stroke-width="1" stroke-dasharray="3 1.5"/>
<line x1="930" y1="821" x2="930" y2="828.6" stroke="#ff1010" stroke-width="1" />
<rect x="490.7" y="574.3" width="25.30000000000001" height="20.0" fill="none" stroke="#333" stroke-width="1.5" />
<circle cx="503.6" cy="584.3" r="8" fill="none" stroke="#333" stroke-width="1" />
<polyline points="473.6,610.7 473.6,584.6 503.6,584.6" fill="none" stroke="#00e600" stroke-width="1.2" stroke-dasharray="3 2"/>
<rect x="452.9" y="607.1" width="15.0" height="22.899999999999977" fill="none" stroke="#333" stroke-width="1.2" />
<rect x="468.6" y="599.3" width="10.699999999999989" height="27.800000000000068" fill="none" stroke="#333" stroke-width="1.2" />
<circle cx="461" cy="624" r="2" fill="none" stroke="#333" stroke-width="1" />
<rect x="479.3" y="607.9" width="57.80000000000001" height="13.5" fill="none" stroke="#333" stroke-width="1.2" />
<rect x="537.9" y="597.4" width="43.80000000000007" height="36.200000000000045" fill="none" stroke="#333" stroke-width="1.5" />
<line x1="557" y1="598" x2="557" y2="633" stroke="#333" stroke-width="1" />
<line x1="538" y1="615.5" x2="581.7" y2="615.5" stroke="#333" stroke-width="1" />
<polyline points="581.7,597.4 597.9,604.3" fill="none" stroke="#ffff00" stroke-width="1" />
<polyline points="581.7,633.6 597.9,624.3" fill="none" stroke="#ffff00" stroke-width="1" />
<line x1="581.7" y1="598" x2="581.7" y2="633" stroke="#ffff00" stroke-width="1.5" />
<rect x="597.4" y="569" width="36.5" height="54.200000000000045" fill="none" stroke="#4a6a90" stroke-width="1.4" />
<line x1="597.4" y1="578" x2="633.9" y2="578" stroke="#4a6a90" stroke-width="1" />
<line x1="597.4" y1="590" x2="633.9" y2="590" stroke="#4a6a90" stroke-width="1" />
<line x1="597.4" y1="603" x2="633.9" y2="603" stroke="#4a6a90" stroke-width="1" />
<polyline points="597.4,569 633.9,578" fill="none" stroke="#333" stroke-width="0.8" />
<polyline points="597.4,578 633.9,569" fill="none" stroke="#333" stroke-width="0.8" />
<polyline points="597.4,590 633.9,603" fill="none" stroke="#333" stroke-width="0.8" />
<polyline points="597.4,603 633.9,590" fill="none" stroke="#333" stroke-width="0.8" />
<line x1="605" y1="605" x2="605" y2="622" stroke="#ffff00" stroke-width="1.2" />
<line x1="608" y1="605" x2="608" y2="622" stroke="#00e600" stroke-width="1.2" />
<line x1="616" y1="586.5" x2="639" y2="586.5" stroke="#ff1010" stroke-width="1.3" />
<line x1="586" y1="588.5" x2="597" y2="588.5" stroke="#ff1010" stroke-width="1.3" />
<polygon points="620,584.5 615,586.5 620,588.5" fill="#ff1010" stroke="#ff1010" stroke-width="1" />
<polygon points="593,586.5 598,588.5 593,590.5" fill="#ff1010" stroke="#ff1010" stroke-width="1" />
<line x1="633.9" y1="607.6" x2="696.4" y2="607.6" stroke="#333" stroke-width="1.2" />
<line x1="633.9" y1="622.1" x2="696.4" y2="622.1" stroke="#333" stroke-width="1.2" />
<rect x="695.4" y="579.7" width="62.10000000000002" height="44.19999999999993" fill="none" stroke="#333" stroke-width="1" stroke-dasharray="3 1"/>
<rect x="717" y="584" width="35" height="36" fill="none" stroke="#333" stroke-width="1.5" />
<circle cx="733.9" cy="600.7" r="16" fill="none" stroke="#333" stroke-width="1.3" />
<circle cx="733.9" cy="600.7" r="11" fill="none" stroke="#333" stroke-width="1.2" />
<circle cx="733.9" cy="600.7" r="6" fill="none" stroke="#333" stroke-width="1.2" />
<circle cx="714" cy="594" r="7" fill="none" stroke="#00e600" stroke-width="1.2" />
<rect x="700" y="607" width="17" height="16" fill="none" stroke="#333" stroke-width="1" />
<polyline points="700,607 717,623" fill="none" stroke="#333" stroke-width="0.8" />
<line x1="759.3" y1="613.6" x2="902.8" y2="652.1" stroke="#333" stroke-width="1.2" />
<line x1="752.9" y1="624.3" x2="894.3" y2="660.7" stroke="#333" stroke-width="1.2" />
<rect x="769.3" y="638.2" width="26.100000000000023" height="30.0" fill="none" stroke="#333" stroke-width="1.3" />
<rect x="772" y="660" width="16" height="6" fill="none" stroke="#333" stroke-width="1" />
<line x1="769.3" y1="645" x2="795.4" y2="645" stroke="#333" stroke-width="0.8" />
<rect x="769" y="671.4" width="120" height="45.0" fill="none" stroke="#333" stroke-width="1.4" />
<rect x="813" y="673.5" width="74" height="41.0" fill="none" stroke="#00e600" stroke-width="1.2" stroke-dasharray="2.5 1.5"/>
<line x1="812" y1="671.4" x2="812" y2="716.4" stroke="#333" stroke-width="1.3" />
<line x1="769" y1="690.7" x2="889" y2="690.7" stroke="#333" stroke-width="1" />
<line x1="769" y1="695.3" x2="889" y2="695.3" stroke="#333" stroke-width="1" />
<polyline points="803,672 812,681" fill="none" stroke="#333" stroke-width="1" />
<rect x="888.9" y="676.8" width="24.700000000000045" height="36.40000000000009" fill="none" stroke="#333" stroke-width="1.2" />
<line x1="895" y1="676.8" x2="895" y2="713.2" stroke="#00e600" stroke-width="1" stroke-dasharray="2 1.5"/>
<line x1="840" y1="699" x2="840" y2="722" stroke="#333" stroke-width="1.6" />
<line x1="847" y1="699" x2="847" y2="722" stroke="#333" stroke-width="1.6" />
<line x1="854" y1="699" x2="854" y2="722" stroke="#333" stroke-width="1.6" />
<line x1="861" y1="699" x2="861" y2="722" stroke="#333" stroke-width="1.6" />
<line x1="868" y1="699" x2="868" y2="722" stroke="#333" stroke-width="1.6" />
<line x1="835" y1="722" x2="873" y2="722" stroke="#333" stroke-width="1.6" />
<rect x="825.7" y="627.1" width="15.299999999999955" height="40.0" fill="none" stroke="#ffff00" stroke-width="1.3" />
<line x1="828.2" y1="629" x2="828.2" y2="650" stroke="#555" stroke-width="1.1" />
<line x1="830.7" y1="629" x2="830.7" y2="650" stroke="#555" stroke-width="1.1" />
<line x1="833.2" y1="629" x2="833.2" y2="650" stroke="#555" stroke-width="1.1" />
<line x1="835.7" y1="629" x2="835.7" y2="650" stroke="#555" stroke-width="1.1" />
<line x1="838.2" y1="629" x2="838.2" y2="650" stroke="#555" stroke-width="1.1" />
<line x1="829.7" y1="653" x2="829.7" y2="665" stroke="#3050d0" stroke-width="1" />
<line x1="837" y1="653" x2="837" y2="665" stroke="#ffff00" stroke-width="1" />
<rect x="845.7" y="627.1" width="14.299999999999955" height="40.0" fill="none" stroke="#ffff00" stroke-width="1.3" />
<line x1="848.2" y1="629" x2="848.2" y2="650" stroke="#555" stroke-width="1.1" />
<line x1="850.7" y1="629" x2="850.7" y2="650" stroke="#555" stroke-width="1.1" />
<line x1="853.2" y1="629" x2="853.2" y2="650" stroke="#555" stroke-width="1.1" />
<line x1="855.7" y1="629" x2="855.7" y2="650" stroke="#555" stroke-width="1.1" />
<line x1="858.2" y1="629" x2="858.2" y2="650" stroke="#555" stroke-width="1.1" />
<line x1="849.7" y1="653" x2="849.7" y2="665" stroke="#3050d0" stroke-width="1" />
<line x1="856" y1="653" x2="856" y2="665" stroke="#ffff00" stroke-width="1" />
<rect x="867.6" y="627.1" width="14.299999999999955" height="40.0" fill="none" stroke="#ffff00" stroke-width="1.3" />
<line x1="870.1" y1="629" x2="870.1" y2="650" stroke="#555" stroke-width="1.1" />
<line x1="872.6" y1="629" x2="872.6" y2="650" stroke="#555" stroke-width="1.1" />
<line x1="875.1" y1="629" x2="875.1" y2="650" stroke="#555" stroke-width="1.1" />
<line x1="877.6" y1="629" x2="877.6" y2="650" stroke="#555" stroke-width="1.1" />
<line x1="880.1" y1="629" x2="880.1" y2="650" stroke="#555" stroke-width="1.1" />
<line x1="871.6" y1="653" x2="871.6" y2="665" stroke="#3050d0" stroke-width="1" />
<line x1="877.9" y1="653" x2="877.9" y2="665" stroke="#ffff00" stroke-width="1" />
<rect x="841" y="723.3" width="18" height="35.30000000000007" fill="none" stroke="#ffff00" stroke-width="1.3" />
<line x1="844" y1="740" x2="844" y2="758" stroke="#555" stroke-width="1.1" />
<line x1="847" y1="740" x2="847" y2="758" stroke="#555" stroke-width="1.1" />
<line x1="850" y1="740" x2="850" y2="758" stroke="#555" stroke-width="1.1" />
<line x1="853" y1="740" x2="853" y2="758" stroke="#555" stroke-width="1.1" />
<line x1="856" y1="740" x2="856" y2="758" stroke="#555" stroke-width="1.1" />
<polyline points="835,753 841,753" fill="none" stroke="#333" stroke-width="1.2" />
<polyline points="859,753 865,753" fill="none" stroke="#333" stroke-width="1.2" />
<circle cx="901.9" cy="656.4" r="7" fill="none" stroke="#333" stroke-width="1.3" />
<line x1="895" y1="662" x2="895" y2="677" stroke="#333" stroke-width="1" />
<line x1="909" y1="662" x2="909" y2="677" stroke="#333" stroke-width="1" />
<rect x="891.4" y="606.2" width="60.0" height="8.599999999999909" fill="none" stroke="#333" stroke-width="1.4" />
<line x1="901" y1="606.2" x2="901" y2="614.8" stroke="#333" stroke-width="1.2" />
<line x1="911" y1="606.2" x2="911" y2="614.8" stroke="#333" stroke-width="1.2" />
<line x1="921" y1="606.2" x2="921" y2="614.8" stroke="#333" stroke-width="1.2" />
<line x1="931" y1="606.2" x2="931" y2="614.8" stroke="#333" stroke-width="1.2" />
<line x1="941" y1="606.2" x2="941" y2="614.8" stroke="#333" stroke-width="1.2" />
<line x1="930.5" y1="678.6" x2="930.5" y2="708.1" stroke="#333" stroke-width="2" />
<line x1="927.5" y1="680" x2="933.5" y2="680" stroke="#333" stroke-width="1" />
<line x1="927.5" y1="707" x2="933.5" y2="707" stroke="#333" stroke-width="1" />
<line x1="964.8" y1="678.6" x2="964.8" y2="708.1" stroke="#333" stroke-width="2" />
<line x1="961.8" y1="680" x2="967.8" y2="680" stroke="#333" stroke-width="1" />
<line x1="961.8" y1="707" x2="967.8" y2="707" stroke="#333" stroke-width="1" />
<rect x="778" y="676" width="22" height="7" fill="none" stroke="#ffff00" stroke-width="1" />
<rect x="778" y="702" width="22" height="7" fill="none" stroke="#ffff00" stroke-width="1" />
<line x1="781" y1="679.5" x2="797" y2="679.5" stroke="#9a30ff" stroke-width="2.5" />
<line x1="781" y1="705.5" x2="797" y2="705.5" stroke="#9a30ff" stroke-width="2.5" />
<rect x="769" y="716.4" width="48" height="6.100000000000023" fill="none" stroke="#00e600" stroke-width="1" stroke-dasharray="2 1.5"/>
<rect x="758" y="707" width="11" height="15" fill="none" stroke="#333" stroke-width="1" />
<circle cx="757" cy="730" r="3.5" fill="none" stroke="#333" stroke-width="1" />
<circle cx="757" cy="730" r="2.5" fill="none" stroke="#ffff00" stroke-width="0.8" />
<rect x="907" y="745" width="13" height="26" fill="none" stroke="#333" stroke-width="0.8" stroke-dasharray="3 1"/>
<line x1="912" y1="746" x2="912" y2="770" stroke="#333" stroke-width="0.8" />
<line x1="916" y1="746" x2="916" y2="770" stroke="#333" stroke-width="0.8" />
<path d="M955 750.5 A 12 13 0 0 0 944 764 L 955 764" fill="none" stroke="#333" stroke-width="0.9" stroke-dasharray="2.5 1.2"/>
<rect x="588.2" y="678.9" width="82.5" height="28.5" fill="none" stroke="#7a7a7a" stroke-width="1" />
<rect x="600" y="671.9" width="58.89999999999998" height="42.39999999999998" fill="none" stroke="#111" stroke-width="2.2" />
<line x1="600" y1="679" x2="658.9" y2="679" stroke="#333" stroke-width="1" stroke-dasharray="4 2"/>
<line x1="600" y1="707" x2="658.9" y2="707" stroke="#333" stroke-width="1" stroke-dasharray="4 2"/>
<rect x="622.5" y="686.5" width="14" height="14" rx="2.5" fill="none" stroke="#8a1ef0" stroke-width="2.2"/>
<rect x="625" y="690" width="3" height="6" fill="#8a1ef0" stroke="none" stroke-width="0" />
<rect x="630" y="689" width="4" height="3" fill="#8a1ef0" stroke="none" stroke-width="0" />
<rect x="607.5" y="714.3" width="17.100000000000023" height="5.300000000000068" fill="none" stroke="#33f0ff" stroke-width="1.2" />
<rect x="330.4" y="681.7" width="37.10000000000002" height="52.299999999999955" fill="none" stroke="#4a6a90" stroke-width="1.4" />
<line x1="330.4" y1="699.3" x2="367.5" y2="699.3" stroke="#4a6a90" stroke-width="1" />
<line x1="330.4" y1="713.2" x2="367.5" y2="713.2" stroke="#4a6a90" stroke-width="1" />
<line x1="330.4" y1="725" x2="367.5" y2="725" stroke="#4a6a90" stroke-width="1" />
<polyline points="330.4,699.3 367.5,713.2" fill="none" stroke="#333" stroke-width="0.8" />
<polyline points="330.4,713.2 367.5,699.3" fill="none" stroke="#333" stroke-width="0.8" />
<polyline points="330.4,725 367.5,734" fill="none" stroke="#333" stroke-width="0.8" />
<polyline points="330.4,734 367.5,725" fill="none" stroke="#333" stroke-width="0.8" />
<line x1="318" y1="719.5" x2="330" y2="719.5" stroke="#ff1010" stroke-width="1.3" />
<line x1="352" y1="721.5" x2="373" y2="721.5" stroke="#ff1010" stroke-width="1.3" />
<polygon points="326,717.5 331,719.5 326,721.5" fill="#ff1010" stroke="#ff1010" stroke-width="1" />
<polygon points="357,719.5 352,721.5 357,723.5" fill="#ff1010" stroke="#ff1010" stroke-width="1" />
<path d="M425.5 737 A 13 13 0 0 1 437 724 L 439 724 L 439 737" fill="none" stroke="#333" stroke-width="0.8" stroke-dasharray="2 1.5"/>
<polyline points="166.5,737 166.5,747.2 235.3,747.2 235.3,737" fill="none" stroke="#33f0ff" stroke-width="1.2" />
<path d="M687.3 788 L818 788 L828 792.3 L828 796.3 L818 800.6 L687.3 800.6 Q684.3 800.6 684.3 794.3 Q684.3 788 687.3 788 Z" fill="#f4f6f8" stroke="#4a6a90" stroke-width="1.2"/>
<line x1="685.3" y1="793.3" x2="820" y2="793.3" stroke="#4a6a90" stroke-width="1" />
<line x1="685.3" y1="795.8" x2="820" y2="795.8" stroke="#4a6a90" stroke-width="1" />
<line x1="818" y1="788" x2="818" y2="800.6" stroke="#4a6a90" stroke-width="0.8" />
<path d="M1079.3 788.6 L1210 788.6 L1220 792.6 L1220 796.6 L1210 800.6 L1079.3 800.6 Q1076.3 800.6 1076.3 794.6 Q1076.3 788.6 1079.3 788.6 Z" fill="#f4f6f8" stroke="#4a6a90" stroke-width="1.2"/>
<line x1="1077.3" y1="793.6" x2="1212" y2="793.6" stroke="#4a6a90" stroke-width="1" />
<line x1="1077.3" y1="796.1" x2="1212" y2="796.1" stroke="#4a6a90" stroke-width="1" />
<line x1="1210" y1="788.6" x2="1210" y2="800.6" stroke="#4a6a90" stroke-width="0.8" />
<line x1="840" y1="793.4" x2="880" y2="793.4" stroke="#ff1010" stroke-width="1.2" />
<polygon points="875,791.5 880,793.4 875,795.3" fill="#ff1010" stroke="#ff1010" stroke-width="1" />
<line x1="1233.7" y1="793.7" x2="1272.9" y2="793.7" stroke="#ff1010" stroke-width="1.2" />
<polygon points="1268,791.8 1273,793.7 1268,795.6" fill="#ff1010" stroke="#ff1010" stroke-width="1" />
<line x1="274" y1="635" x2="325" y2="635" stroke="#ff1010" stroke-width="1.2" />
<polygon points="320,633.5 325,635 320,636.5" fill="#ff1010" stroke="#ff1010" stroke-width="1" />
<line x1="238" y1="516.5" x2="1110" y2="516.5" stroke="#7a7a7a" stroke-width="1" />
<path d="M238 514.6 L154 514.6 Q138 514.6 138 532 L138 678 Q138 692.5 154 692.5 L303 692.5" fill="none" stroke="#33f0ff" stroke-width="1.6"/>
<line x1="238" y1="514" x2="380.7" y2="514" stroke="#ffff00" stroke-width="2.2" />
<line x1="380.7" y1="514" x2="424.6" y2="514" stroke="#33f0ff" stroke-width="2.2" />
<line x1="424.6" y1="514" x2="568.2" y2="514" stroke="#ffff00" stroke-width="2.2" />
<line x1="568.2" y1="514" x2="612.1" y2="514" stroke="#33f0ff" stroke-width="2.2" />
<line x1="612.1" y1="514" x2="755" y2="514" stroke="#ffff00" stroke-width="2.2" />
<line x1="755" y1="514" x2="797.9" y2="514" stroke="#33f0ff" stroke-width="2.2" />
<line x1="797.9" y1="514" x2="941.4" y2="514" stroke="#ffff00" stroke-width="2.2" />
<line x1="941.4" y1="514" x2="985.3" y2="514" stroke="#33f0ff" stroke-width="2.2" />
<line x1="985.3" y1="514" x2="1110" y2="514" stroke="#ffff00" stroke-width="2.2" />
<line x1="116" y1="685" x2="259" y2="695.3" stroke="#ffff00" stroke-width="2.2" />
<line x1="303" y1="693" x2="447.8" y2="693" stroke="#ffff00" stroke-width="2.2" />
<line x1="447.8" y1="693" x2="490.7" y2="693" stroke="#33f0ff" stroke-width="2.2" />
<line x1="490.7" y1="693" x2="634.3" y2="693" stroke="#ffff00" stroke-width="2.2" />
<line x1="634.3" y1="693" x2="678.2" y2="693" stroke="#33f0ff" stroke-width="2.2" />
<line x1="678.2" y1="693" x2="821" y2="693" stroke="#ffff00" stroke-width="2.2" />
<line x1="821" y1="693" x2="864" y2="693" stroke="#33f0ff" stroke-width="2.2" />
<line x1="864" y1="693" x2="1009" y2="693" stroke="#ffff00" stroke-width="2.2" />
<line x1="1009" y1="693" x2="1051" y2="693" stroke="#33f0ff" stroke-width="2.2" />
<line x1="1051" y1="693" x2="1195" y2="693" stroke="#ffff00" stroke-width="2.2" />
<line x1="1195" y1="693" x2="1300" y2="693" stroke="#33f0ff" stroke-width="2.2" />
<line x1="1051" y1="691.6" x2="1158" y2="691.6" stroke="#33f0ff" stroke-width="1.3" />
<circle cx="224.3" cy="472.9" r="13" fill="none" stroke="#ff1010" stroke-width="1.3" />
<text x="217.8" y="477.2" fill="#ffff00" stroke="#ffff00" stroke-width="0.35" font-family="Liberation Mono, monospace" font-size="12.5" textLength="13.0" lengthAdjust="spacingAndGlyphs">A4</text>
<circle cx="224.3" cy="500.3" r="13" fill="none" stroke="#ff1010" stroke-width="1.3" />
<text x="214.55" y="504.6" fill="#ffff00" stroke="#ffff00" stroke-width="0.35" font-family="Liberation Mono, monospace" font-size="12.5" textLength="19.5" lengthAdjust="spacingAndGlyphs">E10</text>
<circle cx="544.6" cy="455.4" r="13" fill="none" stroke="#ff1010" stroke-width="1.3" />
<text x="534.85" y="459.7" fill="#ffff00" stroke="#ffff00" stroke-width="0.35" font-family="Liberation Mono, monospace" font-size="12.5" textLength="19.5" lengthAdjust="spacingAndGlyphs">E14</text>
<circle cx="572.9" cy="455.4" r="13" fill="none" stroke="#ff1010" stroke-width="1.3" />
<text x="566.4" y="459.7" fill="#ffff00" stroke="#ffff00" stroke-width="0.35" font-family="Liberation Mono, monospace" font-size="12.5" textLength="13.0" lengthAdjust="spacingAndGlyphs">G6</text>
<circle cx="842.2" cy="553.3" r="13" fill="none" stroke="#ff1010" stroke-width="1.3" />
<text x="835.7" y="557.5999999999999" fill="#ffff00" stroke="#ffff00" stroke-width="0.35" font-family="Liberation Mono, monospace" font-size="12.5" textLength="13.0" lengthAdjust="spacingAndGlyphs">A3</text>
<circle cx="842.2" cy="579.6" r="13" fill="none" stroke="#ff1010" stroke-width="1.3" />
<text x="835.7" y="583.9" fill="#ffff00" stroke="#ffff00" stroke-width="0.35" font-family="Liberation Mono, monospace" font-size="12.5" textLength="13.0" lengthAdjust="spacingAndGlyphs">E9</text>
<circle cx="655" cy="439.3" r="9" fill="none" stroke="#ff1010" stroke-width="1.2" />
<text x="650.0" y="442.3" fill="#ffff00" stroke="#ffff00" stroke-width="0.25" font-family="Liberation Mono, monospace" font-size="8.5" textLength="10" lengthAdjust="spacingAndGlyphs">E6</text>
<circle cx="1220" cy="549.1" r="9" fill="none" stroke="#ff1010" stroke-width="1.2" />
<text x="1215.0" y="552.1" fill="#ffff00" stroke="#ffff00" stroke-width="0.25" font-family="Liberation Mono, monospace" font-size="8.5" textLength="10" lengthAdjust="spacingAndGlyphs">A7</text>
<circle cx="152.6" cy="747.4" r="9" fill="none" stroke="#ff1010" stroke-width="1.2" />
<text x="145.1" y="750.4" fill="#ffff00" stroke="#ffff00" stroke-width="0.25" font-family="Liberation Mono, monospace" font-size="8.5" textLength="15" lengthAdjust="spacingAndGlyphs">E13</text>
<circle cx="382.1" cy="727.1" r="9" fill="none" stroke="#ff1010" stroke-width="1.2" />
<text x="377.1" y="730.1" fill="#ffff00" stroke="#ffff00" stroke-width="0.25" font-family="Liberation Mono, monospace" font-size="8.5" textLength="10" lengthAdjust="spacingAndGlyphs">E4</text>
<circle cx="416.3" cy="747.1" r="9" fill="none" stroke="#ff1010" stroke-width="1.2" />
<text x="411.3" y="750.1" fill="#ffff00" stroke="#ffff00" stroke-width="0.25" font-family="Liberation Mono, monospace" font-size="8.5" textLength="10" lengthAdjust="spacingAndGlyphs">E7</text>
<circle cx="648.2" cy="586.1" r="9" fill="none" stroke="#ff1010" stroke-width="1.2" />
<text x="643.2" y="589.1" fill="#ffff00" stroke="#ffff00" stroke-width="0.25" font-family="Liberation Mono, monospace" font-size="8.5" textLength="10" lengthAdjust="spacingAndGlyphs">E5</text>
<circle cx="606.9" cy="729.3" r="9" fill="none" stroke="#ff1010" stroke-width="1.2" />
<text x="601.9" y="732.3" fill="#ffff00" stroke="#ffff00" stroke-width="0.25" font-family="Liberation Mono, monospace" font-size="8.5" textLength="10" lengthAdjust="spacingAndGlyphs">G5</text>
<circle cx="625.7" cy="729.3" r="9" fill="none" stroke="#ff1010" stroke-width="1.2" />
<text x="618.2" y="732.3" fill="#ffff00" stroke="#ffff00" stroke-width="0.25" font-family="Liberation Mono, monospace" font-size="8.5" textLength="15" lengthAdjust="spacingAndGlyphs">E11</text>
<circle cx="809.6" cy="659" r="9" fill="none" stroke="#ff1010" stroke-width="1.2" />
<text x="804.6" y="662" fill="#ffff00" stroke="#ffff00" stroke-width="0.25" font-family="Liberation Mono, monospace" font-size="8.5" textLength="10" lengthAdjust="spacingAndGlyphs">A2</text>
<circle cx="790.7" cy="736.1" r="9" fill="none" stroke="#ff1010" stroke-width="1.2" />
<text x="785.7" y="739.1" fill="#ffff00" stroke="#ffff00" stroke-width="0.25" font-family="Liberation Mono, monospace" font-size="8.5" textLength="10" lengthAdjust="spacingAndGlyphs">E8</text>
<text x="725.7" y="425.4" fill="#ffff00" stroke="#ffff00" stroke-width="0.3" font-family="Liberation Mono, monospace" font-size="9" textLength="55.0" lengthAdjust="spacingAndGlyphs">ROOF MOUNT</text>
<text x="732" y="432.9" fill="#ffff00" stroke="#ffff00" stroke-width="0.3" font-family="Liberation Mono, monospace" font-size="9" textLength="39" lengthAdjust="spacingAndGlyphs">A.C. UNIT</text>
<text x="646" y="476.8" fill="#ffff00" stroke="#ffff00" stroke-width="0.3" font-family="Liberation Mono, monospace" font-size="9" textLength="62.60000000000002" lengthAdjust="spacingAndGlyphs">DE-MASK AND</text>
<text x="646" y="486.4" fill="#ffff00" stroke="#ffff00" stroke-width="0.3" font-family="Liberation Mono, monospace" font-size="9" textLength="70" lengthAdjust="spacingAndGlyphs">ROTATE TO EDGE</text>
<text x="274.3" y="631.4" fill="#ffff00" stroke="#ffff00" stroke-width="0.3" font-family="Liberation Mono, monospace" font-size="9" textLength="50.30000000000001" lengthAdjust="spacingAndGlyphs">RAMP DOWN</text>
<text x="357.9" y="657.5" fill="#ffff00" stroke="#ffff00" stroke-width="0.3" font-family="Liberation Mono, monospace" font-size="9" textLength="42.80000000000001" lengthAdjust="spacingAndGlyphs">MASK AND</text>
<text x="343.9" y="665" fill="#ffff00" stroke="#ffff00" stroke-width="0.3" font-family="Liberation Mono, monospace" font-size="9" textLength="67.5" lengthAdjust="spacingAndGlyphs">ROTATE TO FLAT</text>
<text x="261.4" y="721.4" fill="#ffff00" stroke="#ffff00" stroke-width="0.3" font-family="Liberation Mono, monospace" font-size="9" textLength="54.60000000000002" lengthAdjust="spacingAndGlyphs">ROOF MOUNT</text>
<text x="267.4" y="728.9" fill="#ffff00" stroke="#ffff00" stroke-width="0.3" font-family="Liberation Mono, monospace" font-size="9" textLength="39.0" lengthAdjust="spacingAndGlyphs">A.C. UNIT</text>
<text x="174.6" y="755.4" fill="#ffff00" stroke="#ffff00" stroke-width="0.3" font-family="Liberation Mono, monospace" font-size="9" textLength="45.0" lengthAdjust="spacingAndGlyphs">R/U DOOR</text>
<text x="174.6" y="766" fill="#ffff00" stroke="#ffff00" stroke-width="0.3" font-family="Liberation Mono, monospace" font-size="9" textLength="44.0" lengthAdjust="spacingAndGlyphs">8'W x 8'H</text>
<text x="535" y="582.9" fill="#ffff00" stroke="#ffff00" stroke-width="0.3" font-family="Liberation Mono, monospace" font-size="9" textLength="54.299999999999955" lengthAdjust="spacingAndGlyphs">ROOF MOUNT</text>
<text x="540.7" y="590.7" fill="#ffff00" stroke="#ffff00" stroke-width="0.3" font-family="Liberation Mono, monospace" font-size="9" textLength="37.89999999999998" lengthAdjust="spacingAndGlyphs">A.C. UNIT</text>
<text x="611.8" y="750.7" fill="#ffff00" stroke="#ffff00" stroke-width="0.3" font-family="Liberation Mono, monospace" font-size="9" textLength="24.600000000000023" lengthAdjust="spacingAndGlyphs">2 MIN</text>
<text x="598.9" y="759.3" fill="#ffff00" stroke="#ffff00" stroke-width="0.3" font-family="Liberation Mono, monospace" font-size="9" textLength="53.60000000000002" lengthAdjust="spacingAndGlyphs">GAS I/R GEL</text>
<text x="746.8" y="753.9" fill="#ffff00" stroke="#ffff00" stroke-width="0.3" font-family="Liberation Mono, monospace" font-size="8" textLength="81.40000000000009" lengthAdjust="spacingAndGlyphs">SILVER METALLIC/GREEN</text>
<text x="747.8" y="761.4" fill="#ffff00" stroke="#ffff00" stroke-width="0.3" font-family="Liberation Mono, monospace" font-size="8" textLength="79.30000000000007" lengthAdjust="spacingAndGlyphs">MAGIC COMPACT BOOTH</text>
<text x="895.2" y="624.3" fill="#ffff00" stroke="#ffff00" stroke-width="0.3" font-family="Liberation Mono, monospace" font-size="9" textLength="54.299999999999955" lengthAdjust="spacingAndGlyphs">BOX POWDER</text>
<text x="904.2" y="631.5" fill="#ffff00" stroke="#ffff00" stroke-width="0.3" font-family="Liberation Mono, monospace" font-size="9" textLength="33.89999999999998" lengthAdjust="spacingAndGlyphs">STORAGE</text>
<text x="1076.2" y="500.9" fill="#ffff00" stroke="#ffff00" stroke-width="0.3" font-family="Liberation Mono, monospace" font-size="9" textLength="21.299999999999955" lengthAdjust="spacingAndGlyphs">DRIVE</text>
<text x="1116.6" y="659.4" fill="#ffff00" stroke="#ffff00" stroke-width="0.3" font-family="Liberation Mono, monospace" font-size="8" textLength="30.5" lengthAdjust="spacingAndGlyphs">MANUAL</text>
<text x="1115.7" y="666.6" fill="#ffff00" stroke="#ffff00" stroke-width="0.3" font-family="Liberation Mono, monospace" font-size="8" textLength="28.59999999999991" lengthAdjust="spacingAndGlyphs">ROTATE</text>
<text x="1113.7" y="674.9" fill="#ffff00" stroke="#ffff00" stroke-width="0.3" font-family="Liberation Mono, monospace" font-size="8" textLength="35.399999999999864" lengthAdjust="spacingAndGlyphs">TO EDGE</text>
<text x="1110.9" y="718" fill="#ffff00" stroke="#ffff00" stroke-width="0.3" font-family="Liberation Mono, monospace" font-size="8" textLength="42.0" lengthAdjust="spacingAndGlyphs">COOL-OFF</text>
<text x="1058" y="726.3" fill="#ffff00" stroke="#ffff00" stroke-width="0.3" font-family="Liberation Mono, monospace" font-size="8" textLength="144.9000000000001" lengthAdjust="spacingAndGlyphs">MASK #1 &amp; POST DRY BLOW-OFF</text>
<text x="946.8" y="508.3" fill="#ffff00" stroke="#ffff00" stroke-width="0.3" font-family="Liberation Mono, monospace" font-size="8" textLength="41.80000000000007" lengthAdjust="spacingAndGlyphs">CLEAR COAT</text>
<text x="631" y="704" fill="#ffff00" stroke="#ffff00" stroke-width="0.3" font-family="Liberation Mono, monospace" font-size="8" textLength="17.200000000000045" lengthAdjust="spacingAndGlyphs">EXM</text>
<polyline points="385.7,362.4 413.5,362.4 359.3,435" fill="none" stroke="#bd6524" stroke-width="3.3" stroke-linejoin="round"/>
<polyline points="603.6,314.5 630.9,314.5 569.8,436.5" fill="none" stroke="#bd6524" stroke-width="3.3" stroke-linejoin="round"/>
<polyline points="830.2,314.5 861.4,314.5 732.1,488.6" fill="none" stroke="#bd6524" stroke-width="3.3" stroke-linejoin="round"/>
<polyline points="967.9,365 940.3,365 903.1,432.1" fill="none" stroke="#bd6524" stroke-width="3.3" stroke-linejoin="round"/>
<polyline points="469.6,882.5 512.5,882.5 420.1,741.3" fill="none" stroke="#bd6524" stroke-width="3.3" stroke-linejoin="round"/>
<polyline points="679.4,882.9 662.9,882.9 635.4,734.6" fill="none" stroke="#bd6524" stroke-width="3.3" stroke-linejoin="round"/>
<polyline points="950,880.9 928.6,880.9 876.6,767.1" fill="none" stroke="#bd6524" stroke-width="3.3" stroke-linejoin="round"/>
<line x1="1111.3" y1="514.4" x2="1284" y2="514.4" stroke="#bd6524" stroke-width="4" />
<polygon points="1292.6,514.4 1275.5,505.5 1281.5,514.4 1275.5,523.3" fill="#bd6524" stroke="#bd6524" stroke-width="1" />
<line x1="1325.7" y1="690.8" x2="1178" y2="690.8" stroke="#bd6524" stroke-width="4" />
<polygon points="1168.6,690.8 1186,681.5 1180,690.8 1186,700" fill="#bd6524" stroke="#bd6524" stroke-width="1" />
</svg>

<div class="cb" style="left:156px;top:334px;width:218px;height:57px;">Accent color<br>applied, step 4</div>
<div class="cb s2" style="left:440px;top:280px;width:155px;height:70px;">Gel oven,<br>step 5</div>
<div class="cb s2" style="left:642px;top:280px;width:179px;height:70px;">Mask removal,<br>step 6</div>
<div class="cb" style="left:983px;top:344px;width:249px;height:44px;">Clear coat, final step</div>
<div class="cb s1" style="left:1217px;top:449px;width:142px;height:43px;">To final cure</div>
<div class="cb s1" style="left:1208px;top:634px;width:160px;height:43px;">From dry off</div>
<div class="cb s1" style="left:157px;top:872px;width:286px;height:45px;">Cool and masking, step 3</div>
<div class="cb s1" style="left:695px;top:874px;width:199px;height:45px;">Gel oven, step 2</div>
<div class="cb s1" style="left:969px;top:872px;width:251px;height:45px;">Color base coat, step 1</div>

<svg width="140" height="60" style="left:80px;top:960px;" viewBox="80 960 140 60">
<path d="M91.9 989.3 A 18.6 20.2 0 0 1 110.5 969.1" fill="none" stroke="#e3141c" stroke-width="5.6"/>
<g fill="none" stroke="#1e1e1e" stroke-width="6">
<path d="M120 985.5 A 10 10 0 0 0 100 987 L100 996.5 A 10 10 0 0 0 120 996.5 L120 991.5 L110.5 991.5"/>
</g>
<g fill="none" stroke="#1e1e1e" stroke-width="5.2">
<path d="M127.6 996.2 H 144.4 A 8.4 10.6 0 1 0 141.4 1004.3"/>
<path d="M152.5 1009.5 V 985.6 M152.5 993.5 A 7.75 7.9 0 0 1 168 993.5 V 1009.5 M168 993.5 A 7.75 7.9 0 0 1 183.5 993.5 V 1009.5"/>
<path d="M191.2 988.5 A 8.5 5.5 0 0 1 206.9 991.5 V 1009.5"/>
<path d="M206.9 997.6 H 199.3 A 7 4.6 0 0 0 199.3 1006.8 C 203 1006.8 206 1005.5 206.9 1002.5"/>
</g>
</svg>
<div id="foot">Tracker Marine / USA</div>
<div id="pg">2</div>
</body></html>
